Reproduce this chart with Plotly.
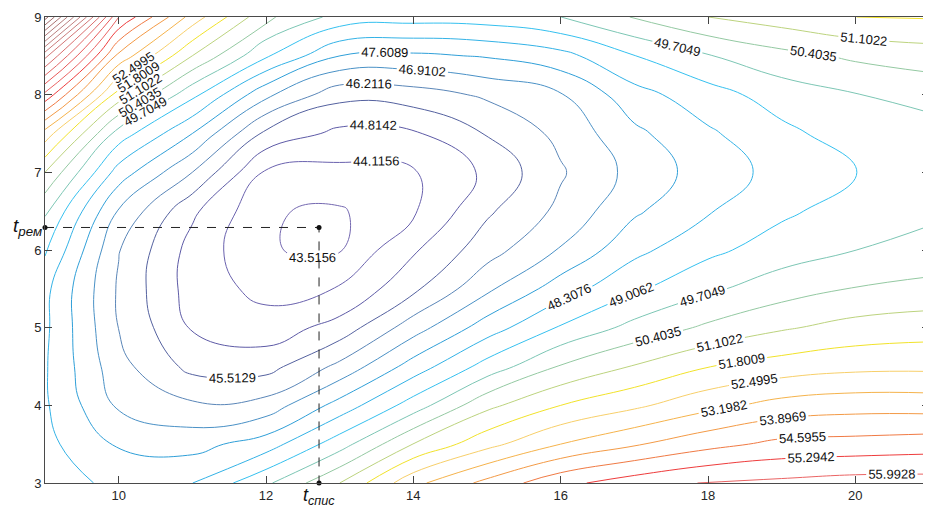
import plotly.graph_objects as go

# grid coordinates (t_спис on x, t_рем on y)
x_vals = [9, 10, 11, 12, 13, 14, 15, 16, 17, 18, 19, 20, 21]
y_vals = [3.0, 3.5, 4.0, 4.5, 5.0, 5.5, 6.0, 6.5, 7.0, 7.5, 8.0, 8.5, 9.0]

# values, one row per y value (x = 9 ... 21)
z_y30 = [49.00, 47.95, 48.30, 49.57, 51.10, 53.00, 54.10, 55.10, 55.65, 56.05, 56.15, 56.30, 56.30]
z_y35 = [48.50, 47.55, 47.35, 47.96, 49.40, 51.12, 52.28, 53.20, 53.82, 54.37, 54.78, 54.85, 54.95]
z_y40 = [48.40, 46.80, 46.33, 46.49, 47.88, 49.33, 50.92, 51.80, 52.36, 52.98, 53.45, 53.62, 53.60]
z_y45 = [48.38, 46.45, 45.30, 45.24, 46.39, 47.92, 49.28, 50.46, 51.15, 51.78, 52.11, 52.31, 52.34]
z_y50 = [48.45, 46.20, 44.75, 44.42, 45.09, 46.59, 47.96, 49.08, 49.93, 50.53, 51.02, 51.35, 51.49]
z_y55 = [48.50, 46.12, 44.50, 43.90, 44.15, 45.36, 46.77, 47.97, 48.89, 49.58, 50.08, 50.44, 50.61]
z_y60 = [49.10, 46.25, 44.55, 43.53, 43.47, 44.72, 45.91, 46.97, 48.12, 48.83, 49.36, 49.70, 49.94]
z_y65 = [49.80, 46.85, 44.95, 43.55, 43.45, 44.02, 45.40, 46.38, 47.50, 48.25, 48.87, 49.33, 49.56]
z_y70 = [51.10, 48.00, 46.21, 44.02, 43.94, 44.05, 44.95, 46.13, 47.14, 47.94, 48.54, 49.00, 49.30]
z_y75 = [52.90, 49.40, 47.61, 45.35, 44.63, 44.72, 45.56, 46.40, 47.45, 48.20, 48.83, 49.34, 49.45]
z_y80 = [55.80, 51.50, 49.20, 47.08, 45.75, 45.89, 46.33, 46.86, 48.05, 48.72, 49.33, 49.68, 49.92]
z_y85 = [59.00, 53.70, 51.10, 49.10, 47.61, 47.48, 47.67, 48.07, 48.99, 49.66, 50.18, 50.53, 50.76]
z_y90 = [64.00, 56.00, 52.90, 50.55, 49.45, 49.30, 49.35, 49.70, 50.45, 51.10, 51.45, 51.80, 51.85]
z_rows = [z_y30, z_y35, z_y40, z_y45, z_y50, z_y55, z_y60, z_y65, z_y70,
          z_y75, z_y80, z_y85, z_y90]

# contour levels and their line colours
levels = [43.5156, 44.1156, 44.8142, 45.5129, 46.2116, 46.9102, 47.6089, 48.3076,
          49.0062, 49.7049, 50.4035, 51.1022, 51.8009, 52.4995, 53.1982, 53.8969,
          54.5955, 55.2942, 55.9928,
          56.6915, 57.3902, 58.0888, 58.7875, 59.4862, 60.1848, 60.8835, 61.5821,
          62.2808, 62.9795, 63.6781]
level_colors = ['#7468b0', '#6a62ae', '#5d5aa6', '#54619f', '#5a86b8', '#4a91c6',
                '#2f9fd8', '#33b2e6', '#35c0ef', '#7cc6b4', '#94c9a2', '#bcd37e',
                '#f1e22a', '#f7cf6a', '#f5b34c', '#f39a46', '#f07a44', '#ee3c3c',
                '#ea6464',
                '#e85a5a', '#e26868', '#da7070', '#d27676', '#ca7c7c', '#c28080',
                '#ba8080', '#b27a7a', '#aa7272', '#a26a6a', '#9a6262']
labelled_max = 55.9928

# optimum point marked by the dashed guides
opt_x = 12.72
opt_y = 6.29

x_range = [9, 21]
y_range = [3, 9]
x_ticks = [10, 12, 14, 16, 18, 20]
y_ticks = [3, 4, 5, 6, 7, 8, 9]

fig = go.Figure()

for lev, col in zip(levels, level_colors):
    fig.add_trace(go.Contour(
        x=x_vals, y=y_vals, z=z_rows,
        autocontour=False,
        contours=dict(start=lev, end=lev, size=1, coloring='none',
                      showlabels=lev <= labelled_max,
                      labelfont=dict(family='Liberation Sans', size=13, color='#111111'),
                      labelformat='.4f'),
        line=dict(color=col, width=1, smoothing=1.3),
        showscale=False, hoverinfo='skip'))

fig.add_trace(go.Scatter(
    x=[x_range[0], opt_x, opt_x], y=[opt_y, opt_y, y_range[0]],
    mode='lines', line=dict(color='#222222', width=1, dash='dash'),
    hoverinfo='skip', showlegend=False, cliponaxis=False))
fig.add_trace(go.Scatter(
    x=[x_range[0], opt_x, opt_x], y=[opt_y, opt_y, y_range[0]],
    mode='markers', marker=dict(color='#111111', size=5),
    hoverinfo='skip', showlegend=False, cliponaxis=False))

fig.add_annotation(x=x_range[0], y=opt_y, xref='x', yref='y',
                   text='<i>t</i><sub><i>рем</i></sub>', showarrow=False,
                   xanchor='right', yanchor='middle', xshift=-1,
                   font=dict(family='Liberation Sans', size=19, color='#111111'))
fig.add_annotation(x=opt_x, y=y_range[0], xref='x', yref='y',
                   text='<i>t</i><sub><i>спис</i></sub>', showarrow=False,
                   xanchor='center', yanchor='top', yshift=0,
                   font=dict(family='Liberation Sans', size=18, color='#111111'))

axis_style = dict(showgrid=False, zeroline=False, showline=True, linecolor='#4a4a4a',
                  linewidth=1, mirror='ticks', ticks='inside', ticklen=7,
                  tickcolor='#444444', automargin=False,
                  tickfont=dict(family='Liberation Sans', size=13, color='#262626'))
fig.update_xaxes(range=x_range, tickvals=x_ticks, **axis_style)
fig.update_yaxes(range=y_range, tickvals=y_ticks, **axis_style)

# the page body adds an 8px margin, so the figure is sized and padded to land
# the plotting area where the reference has it
fig.update_layout(width=923, height=505, plot_bgcolor='white', paper_bgcolor='white',
                  margin=dict(l=37, r=2, t=9, b=30, pad=0), showlegend=False)

fig.write_html('out.html')
